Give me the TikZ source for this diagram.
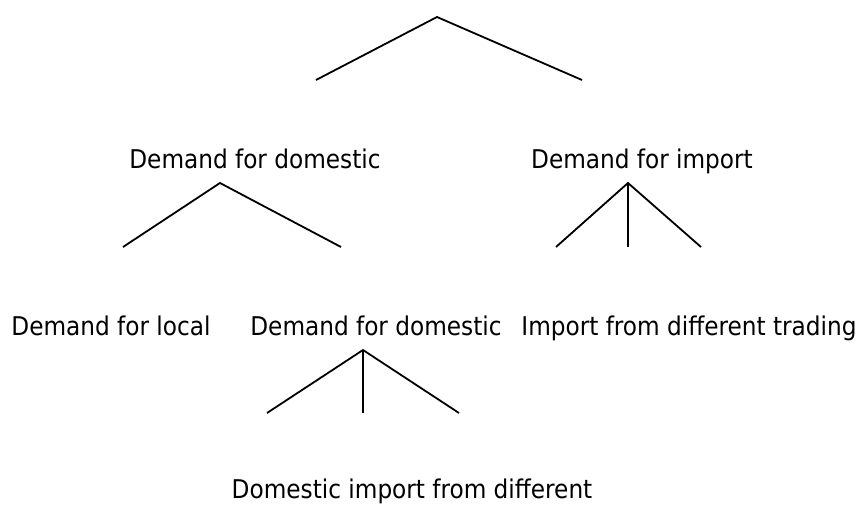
\documentclass[tikz,border=0pt]{standalone}
\usepackage{fontspec}
\setmainfont{DejaVu Sans Condensed}

\begin{document}
\begin{tikzpicture}[x=1pt,y=-1pt,
  lbl/.style={inner sep=0pt,anchor=base,font=\fontsize{25.8}{30}\selectfont},
  br/.style={line width=1.8pt}]
  \useasboundingbox (0,0) rectangle (860,506);

  % top split
  \coordinate (top) at (437,17);
  \coordinate (topl) at (316,80);
  \coordinate (topr) at (582,80);
  \draw[br] (topl) -- (top) -- (topr);

  \node[lbl] (dom) at (255,168) {Demand for domestic};
  \node[lbl] (imp) at (642,168) {Demand for import};

  % domestic split
  \coordinate (dtop) at (220,183);
  \coordinate (dl) at (123,247);
  \coordinate (dr) at (341,247);
  \draw[br] (dl) -- (dtop) -- (dr);

  % import split
  \coordinate (itop) at (628,183);
  \coordinate (il) at (556,247);
  \coordinate (im) at (628,247);
  \coordinate (ir) at (701,247);
  \draw[br] (il) -- (itop) -- (ir);
  \draw[br] (itop) -- (im);

  \node[lbl] (loc) at (111,335) {Demand for local};
  \node[lbl] (dom2) at (376,335) {Demand for domestic};
  \node[lbl] (trd) at (689,335) {Import from different trading};

  % domestic import split
  \coordinate (ttop) at (363,350);
  \coordinate (tl) at (267,413);
  \coordinate (tm) at (363,413);
  \coordinate (tr) at (459,413);
  \draw[br] (tl) -- (ttop) -- (tr);
  \draw[br] (ttop) -- (tm);

  \node[lbl] (dimp) at (412,498) {Domestic import from different};
\end{tikzpicture}
\end{document}
